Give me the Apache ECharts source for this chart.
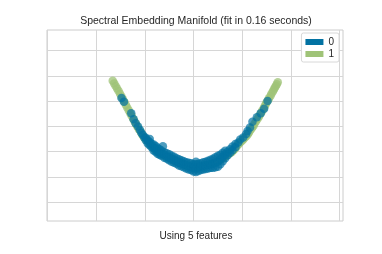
<!DOCTYPE html>
<html><head><meta charset="utf-8">
<script src="https://cdn.jsdelivr.net/npm/echarts@6/dist/echarts.min.js"></script>
<style>html,body{margin:0;padding:0;background:#fff}#c{width:382px;height:254px}</style>
</head><body><div id="c"></div>
<script>
// Tick positions (axis labels are hidden in the reference)
const xTicks = [0, 1, 2, 3, 4, 5, 6];
const yTicks = [0, 1, 2, 3, 4, 5, 6];
const classNames = ['0', '1'];

// Class "1" (green) embedded points [x, y]
const class1 = [
  [1.34,4.80],[1.37,4.70],[1.40,4.60],[1.43,4.50],[1.46,4.40],[1.49,4.29],[1.52,4.18],[1.55,4.07],
  [1.58,3.96],[1.61,3.85],[1.64,3.74],[1.67,3.63],[1.70,3.52],[1.73,3.41],[1.76,3.30],[1.79,3.19],
  [1.82,3.08],[1.85,2.98],[1.88,2.88],[1.92,2.77],[1.95,2.66],[1.98,2.57],[2.02,2.48],[2.06,2.39],
  [2.10,2.30],[2.14,2.22],[2.18,2.14],[2.22,2.07],[2.26,2.01],[2.30,1.95],[2.35,1.90],[2.40,1.85],
  [2.45,1.80],[2.50,1.75],[2.55,1.70],[2.60,1.65],[2.65,1.61],[2.70,1.57],[2.75,1.53],[2.80,1.49],
  [2.85,1.46],[2.90,1.43],[2.95,1.41],[3.00,1.40],[3.05,1.39],[3.10,1.40],[3.15,1.41],[3.20,1.43],
  [3.25,1.45],[3.30,1.47],[3.35,1.50],[3.40,1.53],[3.45,1.57],[3.50,1.62],[3.55,1.67],[3.59,1.72],
  [3.63,1.78],[3.67,1.83],[3.70,1.88],[3.74,1.93],[3.78,1.98],[3.81,2.04],[3.84,2.10],[3.87,2.17],
  [3.90,2.24],[3.93,2.30],[3.96,2.37],[3.99,2.42],[4.02,2.48],[4.05,2.55],[4.09,2.62],[4.12,2.70],
  [4.14,2.77],[4.17,2.86],[4.20,2.94],[4.23,3.02],[4.25,3.10],[4.28,3.19],[4.31,3.28],[4.34,3.37],
  [4.36,3.45],[4.39,3.54],[4.41,3.62],[4.44,3.71],[4.46,3.79],[4.48,3.87],[4.50,3.94],[4.53,4.03],
  [4.55,4.11],[4.58,4.20],[4.60,4.29],[4.63,4.38],[4.65,4.46],[4.67,4.53],[4.69,4.60],[4.71,4.67],
  [4.73,4.74]
];

// Class "0" (blue) embedded points [x, y]
const class0 = [
  [1.52,4.12],[1.57,3.97],[1.72,3.52],[1.77,3.28],[1.81,3.12],[1.86,3.00],[1.90,2.86],
  [1.93,2.74],[1.96,2.66],[1.99,2.56],
  [2.02,2.45],[2.02,2.55],[2.06,2.32],[2.06,2.44],[2.10,2.25],[2.10,2.38],[2.10,2.50],
  [2.14,2.18],[2.14,2.30],[2.18,2.05],[2.18,2.16],[2.18,2.28],[2.22,2.00],[2.22,2.12],[2.22,2.22],
  [2.26,1.92],[2.26,2.05],[2.26,2.16],[2.30,1.88],[2.30,1.98],[2.30,2.10],[2.34,1.84],[2.34,1.95],
  [2.34,2.05],[2.37,2.21],[2.40,1.76],[2.40,1.88],[2.40,1.98],[2.45,1.72],[2.45,1.82],[2.45,1.94],
  [2.50,1.66],[2.50,1.78],[2.50,1.90],[2.55,1.60],[2.55,1.72],[2.55,1.84],[2.60,1.56],[2.60,1.68],
  [2.60,1.80],[2.65,1.52],[2.65,1.62],[2.65,1.74],[2.70,1.45],[2.70,1.56],[2.70,1.70],[2.75,1.42],
  [2.75,1.54],[2.75,1.66],[2.80,1.38],[2.80,1.50],[2.80,1.62],[2.85,1.34],[2.85,1.46],[2.85,1.58],
  [2.90,1.30],[2.90,1.42],[2.90,1.56],[2.95,1.28],[2.95,1.40],[2.95,1.54],[3.00,1.22],[3.00,1.36],
  [3.00,1.50],[3.05,1.20],[3.05,1.34],[3.05,1.50],[3.05,1.60],[3.10,1.24],[3.10,1.38],[3.10,1.52],
  [3.15,1.28],[3.15,1.40],[3.15,1.54],[3.20,1.30],[3.20,1.44],[3.20,1.58],[3.25,1.32],[3.25,1.46],
  [3.25,1.60],[3.30,1.34],[3.30,1.48],[3.30,1.64],[3.35,1.36],[3.35,1.50],[3.35,1.68],[3.40,1.36],
  [3.40,1.52],[3.40,1.72],[3.45,1.38],[3.45,1.56],[3.45,1.78],[3.50,1.40],[3.50,1.60],[3.50,1.84],
  [3.55,1.50],[3.55,1.70],[3.55,1.88],[3.60,1.62],[3.60,1.80],[3.60,1.96],[3.65,1.74],[3.65,1.90],
  [3.65,2.04],[3.70,1.86],[3.70,2.00],[3.75,1.96],[3.75,2.10],[3.80,2.06],[3.80,2.20],[3.86,2.18],
  [3.86,2.30],[3.92,2.36],[3.96,2.48],
  [4.02,2.56],[4.08,2.70],[4.11,2.82],[4.16,2.96],[4.21,3.18],[4.30,3.36],[4.38,3.52],[4.45,3.70],
  [4.52,4.00]
];

const chart = echarts.init(document.getElementById('c'), null, {renderer: 'canvas'});
const FONT = 'Liberation Sans, Arial, sans-serif';
chart.setOption({
  animation: false,
  backgroundColor: '#ffffff',
  grid: {left: 47, top: 30, width: 296, height: 191, show: true, borderColor: '#cccccc', borderWidth: 1, backgroundColor: '#ffffff'},
  xAxis: {
    type: 'value', min: -0.01, max: 6.07,
    axisLine: {show: false}, axisLabel: {show: false},
    axisTick: {show: false, customValues: xTicks},
    splitLine: {show: true, lineStyle: {color: '#d6d6d6', width: 1}}
  },
  yAxis: {
    type: 'value', min: -0.74, max: 6.81,
    axisLine: {show: false}, axisLabel: {show: false},
    axisTick: {show: false, customValues: yTicks},
    splitLine: {show: true, lineStyle: {color: '#d6d6d6', width: 1}}
  },
  legend: {
    data: classNames, right: 43, top: 33, orient: 'vertical',
    icon: 'rect', itemWidth: 18, itemHeight: 6, itemGap: 0, itemTextGap: 6,
    padding: [3, 5, 2, 4], borderColor: '#d8d8d8', borderWidth: 1, borderRadius: 2,
    backgroundColor: '#ffffff',
    textStyle: {fontSize: 10, lineHeight: 12, color: '#262626', fontFamily: FONT},
    itemStyle: {opacity: 1}
  },
  graphic: [
    {type: 'text', x: 196, y: 21.5, style: {text: 'Spectral Embedding Manifold (fit in 0.16 seconds)', fontSize: 10.5, fontFamily: FONT, fill: '#262626', align: 'center', verticalAlign: 'middle'}},
    {type: 'text', x: 196, y: 236, style: {text: 'Using 5 features', fontSize: 10, fontFamily: FONT, fill: '#262626', align: 'center', verticalAlign: 'middle'}}
  ],
  series: [
    {name: '1', type: 'scatter', data: class1, symbolSize: 8.5, itemStyle: {color: '#9fc377', opacity: 0.75}, z: 2},
    {name: '0', type: 'scatter', data: class0, symbolSize: 8.5, itemStyle: {color: '#0272a2', opacity: 0.7}, z: 3}
  ]
});
</script></body></html>
